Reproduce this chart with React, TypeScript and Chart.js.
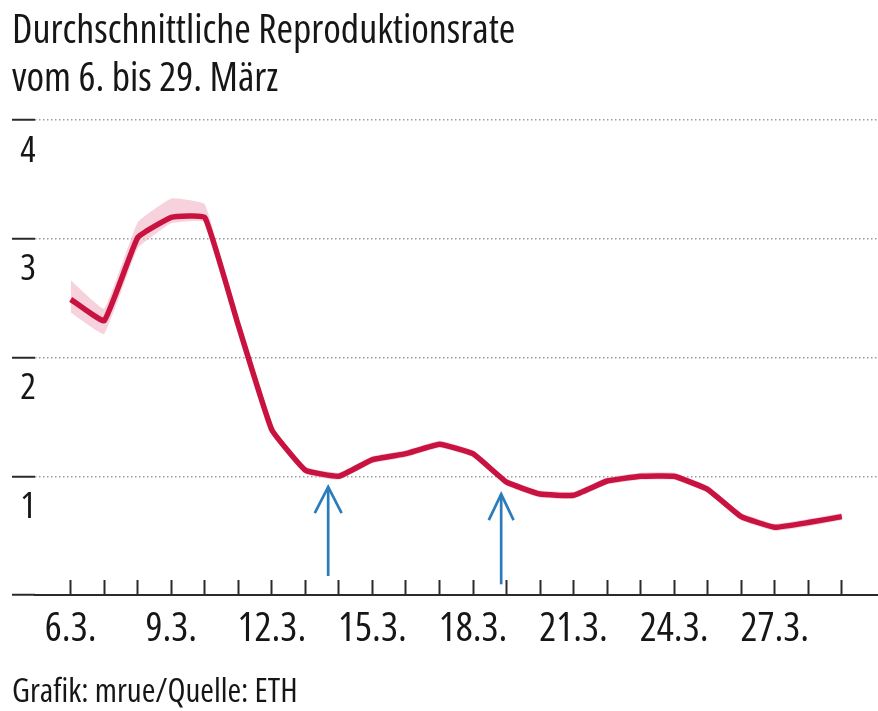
import React, { useEffect, useRef } from "react";
import { Chart, registerables } from "chart.js";

Chart.register(...registerables);

// ---- data ----
const titleLines = ["Durchschnittliche Reproduktionsrate", "vom 6. bis 29. März"];
const sourceText = "Grafik: mrue/Quelle: ETH";

const days = [6, 7, 8, 9, 10, 11, 12, 13, 14, 15, 16, 17, 18, 19, 20, 21, 22, 23, 24, 25, 26, 27, 28, 29];
const rValues = [2.49, 2.31, 3.01, 3.18, 3.18, 2.27, 1.39, 1.05, 1.0, 1.14, 1.19, 1.27, 1.19, 0.95, 0.85, 0.84, 0.96, 1.0, 1.0, 0.89, 0.66, 0.57, 0.61, 0.66];
const rUpper = [2.65, 2.41, 3.14, 3.34, 3.29, 2.31, 1.42, 1.08, 1.03, 1.17, 1.22, 1.3, 1.22, 0.98, 0.88, 0.87, 0.99, 1.03, 1.03, 0.92, 0.69, 0.6, 0.64, 0.69];
const rLower = [2.38, 2.2, 2.92, 3.13, 3.14, 2.23, 1.36, 1.02, 0.97, 1.11, 1.16, 1.24, 1.16, 0.92, 0.82, 0.81, 0.93, 0.97, 0.97, 0.86, 0.63, 0.54, 0.58, 0.63];
const labeledDays = [6, 9, 12, 15, 18, 21, 24, 27];
const yTicks = [0, 1, 2, 3, 4];

// arrows (x in days, y in R units)
const arrow1ShaftX = [13.68, 13.68];
const arrow1ShaftY = [0.16, 0.91];
const arrow1HeadX = [13.28, 13.68, 14.08];
const arrow1HeadY = [0.69, 0.91, 0.69];
const arrow2ShaftX = [18.84, 18.84];
const arrow2ShaftY = [0.09, 0.85];
const arrow2HeadX = [18.47, 18.84, 19.21];
const arrow2HeadY = [0.63, 0.85, 0.63];

const xMin = 4.935;
const xMax = 30.08;

const FONT = "'Open Sans', 'Roboto Condensed', 'Liberation Sans', sans-serif";
const STRETCH = "condensed";
const LINE_RED = "#c8123f";
const BAND_PINK = "rgba(242, 178, 196, 0.6)";
const ARROW_BLUE = "#2c7cbc";
const DARK = "#2a2a2a";
const TEXT = "#161616";

const pts = (xs: number[], ys: number[]) => xs.map((x, i) => ({ x, y: ys[i] }));

export default function App() {
  const ref = useRef<HTMLCanvasElement | null>(null);

  useEffect(() => {
    if (!ref.current) return;
    const arrowDs = (xs: number[], ys: number[]) => ({
      data: pts(xs, ys),
      borderColor: ARROW_BLUE,
      borderWidth: 2.7,
      pointRadius: 0,
      fill: false,
      tension: 0,
      order: 0,
      borderJoinStyle: "miter" as const,
    });
    const chart = new Chart(ref.current, {
      type: "line",
      data: {
        datasets: [
          {
            data: pts(days, rUpper),
            borderWidth: 0,
            borderColor: "rgba(0,0,0,0)",
            pointRadius: 0,
            fill: false,
            tension: 0.1,
            order: 3,
          },
          {
            data: pts(days, rLower),
            borderWidth: 0,
            borderColor: "rgba(0,0,0,0)",
            backgroundColor: BAND_PINK,
            pointRadius: 0,
            fill: "-1",
            tension: 0.1,
            order: 2,
          },
          {
            data: pts(days, rValues),
            borderColor: LINE_RED,
            borderWidth: 5.5,
            pointRadius: 0,
            fill: false,
            tension: 0.1,
            order: 1,
            borderJoinStyle: "round",
          },
          arrowDs(arrow1ShaftX, arrow1ShaftY),
          arrowDs(arrow1HeadX, arrow1HeadY),
          arrowDs(arrow2ShaftX, arrow2ShaftY),
          arrowDs(arrow2HeadX, arrow2HeadY),
        ],
      },
      options: {
        responsive: false,
        animation: false,
        events: [],
        layout: { padding: { left: 12, right: 0, top: 0, bottom: 0 } },
        plugins: {
          legend: { display: false },
          tooltip: { enabled: false },
          title: {
            display: true,
            text: titleLines,
            align: "start",
            color: TEXT,
            font: { family: FONT, size: 40, weight: STRETCH, lineHeight: 1.2 },
            padding: { top: 7.5, bottom: 16.5 },
          },
          subtitle: {
            display: true,
            text: sourceText,
            position: "bottom",
            align: "start",
            color: TEXT,
            font: { family: FONT, size: 33, weight: STRETCH, lineHeight: 1.0 },
            padding: { top: 20.7, bottom: 2.3 },
          },
        },
        scales: {
          x: {
            type: "linear",
            min: xMin,
            max: xMax,
            afterBuildTicks: (scale: any) => {
              scale.ticks = days.map((v) => ({ value: v }));
            },
            afterFit: (scale: any) => {
              scale.height = 60;
            },
            grid: {
              display: true,
              drawOnChartArea: false,
              drawTicks: true,
              tickLength: -15,
              tickColor: DARK,
              tickWidth: 2,
            },
            border: { display: true, color: DARK, width: 2 },
            ticks: {
              autoSkip: false,
              maxRotation: 0,
              minRotation: 0,
              padding: 25.5,
              color: TEXT,
              font: { family: FONT, size: 40, weight: STRETCH },
              callback: (v: any) => (labeledDays.includes(Number(v)) ? `${v}.3.` : ""),
            },
          },
          y: {
            type: "linear",
            min: 0,
            max: 4,
            afterBuildTicks: (scale: any) => {
              scale.ticks = yTicks.map((v) => ({ value: v }));
            },
            afterFit: (scale: any) => {
              scale.width = 23;
            },
            grid: {
              display: true,
              drawOnChartArea: true,
              drawTicks: true,
              tickLength: 23,
              tickColor: DARK,
              tickWidth: 2,
              tickBorderDash: [],
              lineWidth: 1.5,
              color: (ctx: any) => (ctx.tick && ctx.tick.value === 0 ? "rgba(0,0,0,0)" : "#9c9c9c"),
            },
            border: { display: false, dash: [1.5, 2.5] },
            ticks: {
              crossAlign: "near",
              labelOffset: 31,
              padding: -24,
              color: TEXT,
              font: { family: FONT, size: 37, weight: STRETCH },
              callback: (v: any) => (Number(v) === 0 ? "" : String(v)),
            },
          },
        },
      },
    } as any);
    return () => chart.destroy();
  }, []);

  return (
    <div style={{ position: "absolute", left: 0, top: 0, width: 878, height: 711, background: "#fff" }}>
      <canvas ref={ref} width={878} height={711} style={{ display: "block" }} />
    </div>
  );
}
